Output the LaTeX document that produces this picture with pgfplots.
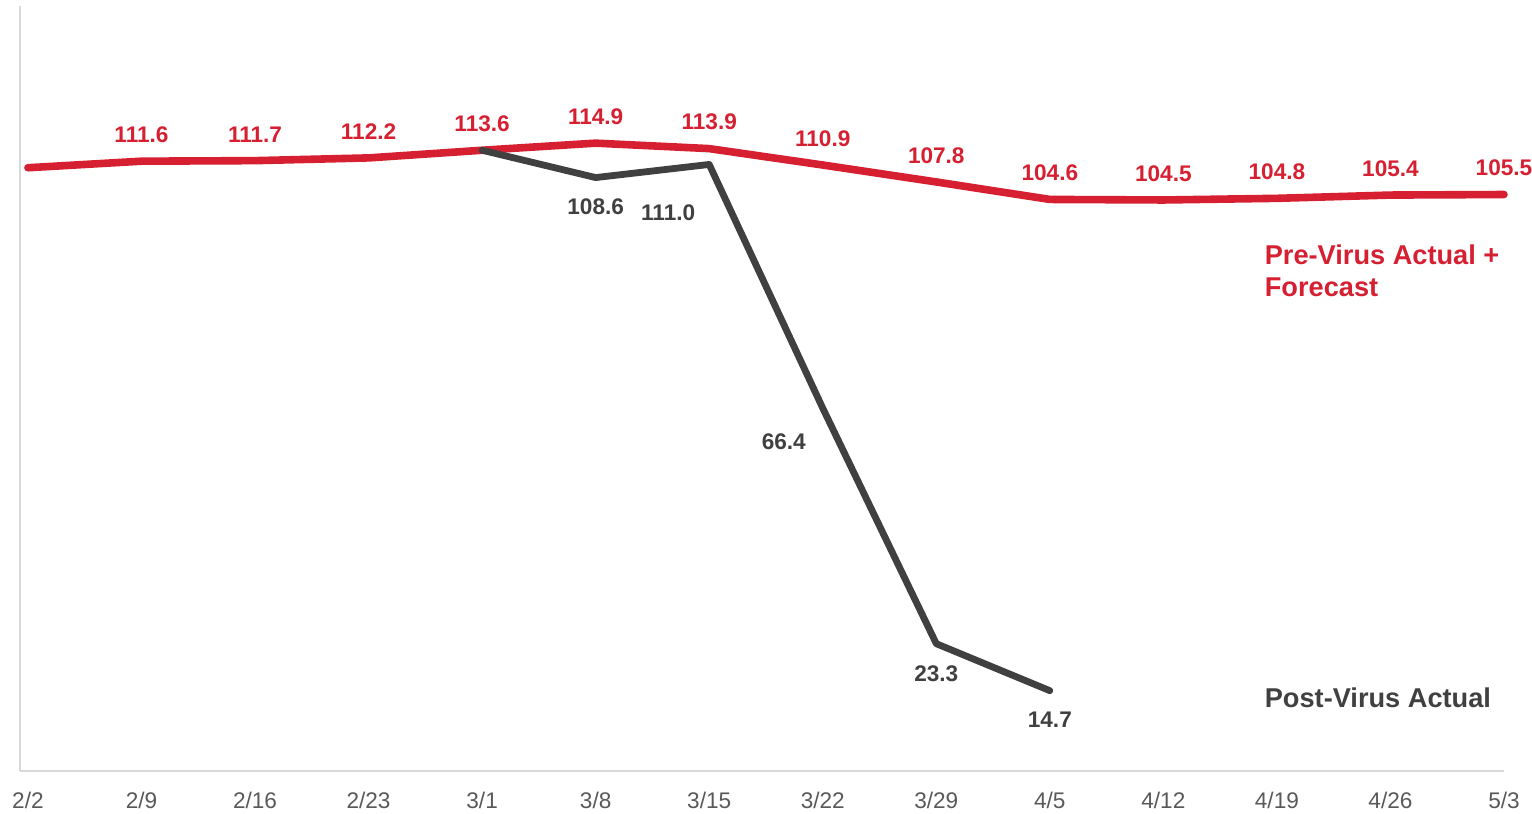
\documentclass[border=0pt]{standalone}
\usepackage{pgfplots}
\pgfplotsset{compat=1.18}
\usepackage{fontspec}
\setmainfont{Liberation Sans}
\definecolor{vred}{HTML}{D62032}
\definecolor{vdark}{HTML}{404040}
\definecolor{tickgray}{HTML}{595959}
\definecolor{axgray}{HTML}{D9D9D9}
\begin{document}
\begin{tikzpicture}
\begin{axis}[
  scale only axis,
  width=742pt, height=382.5pt,
  xmin=-0.07, xmax=13,
  ymin=0, ymax=140,
  axis x line*=bottom, axis y line*=left,
  axis line style={draw=axgray, line width=1pt, -},
  ytick=\empty,
  xtick={0,...,13},
  xticklabels={2/2,2/9,2/16,2/23,3/1,3/8,3/15,3/22,3/29,4/5,4/12,4/19,4/26,5/3},
  xtick style={draw=none},
  xticklabel style={font=\fontsize{11.3pt}{13pt}\selectfont, text=tickgray, yshift=-7pt},
  clip=false,
]
\addplot[vred, line width=3.8pt, line cap=round, line join=round,
  nodes near coords, point meta=explicit symbolic,
  nodes near coords style={font=\fontsize{11.3pt}{13pt}\selectfont\bfseries, text=vred, anchor=south, yshift=4pt}]
  table[meta=lab] {
x y lab
0 110.4 {}
1 111.6 111.6
2 111.7 111.7
3 112.2 112.2
4 113.6 113.6
5 114.9 114.9
6 113.9 113.9
7 110.9 110.9
8 107.8 107.8
9 104.6 104.6
10 104.5 104.5
11 104.8 104.8
12 105.4 105.4
13 105.5 105.5
};
\addplot[vdark, line width=3.4pt, line cap=round, line join=round,
  nodes near coords, point meta=explicit symbolic,
  visualization depends on={\thisrow{dx} \as \dx},
  visualization depends on={\thisrow{dy} \as \dy},
  nodes near coords style={font=\fontsize{11.3pt}{13pt}\selectfont\bfseries, text=vdark, anchor=center, xshift=\dx pt, yshift=\dy pt}]
  table[meta=lab] {
x y lab dx dy
4 113.6 {} 0 0
5 108.6 108.6 0 -14.5
6 111.0 111.0 -20.5 -24
7 66.4 66.4 -19.5 -17
8 23.3 23.3 0 -15
9 14.7 14.7 0 -14.5
};
\node[anchor=west, align=left, font=\fontsize{13.6pt}{16pt}\selectfont\bfseries, text=vred, inner sep=0pt] at (axis cs:10.89,91.5) {Pre-Virus Actual +\\Forecast};
\node[anchor=west, font=\fontsize{13.6pt}{16pt}\selectfont\bfseries, text=vdark, inner sep=0pt] at (axis cs:10.89,13.4) {Post-Virus Actual};
\end{axis}
\pgfresetboundingbox
\path[use as bounding box] (-10pt,-21.5pt) rectangle (756pt,385.5pt);
\end{tikzpicture}
\end{document}
